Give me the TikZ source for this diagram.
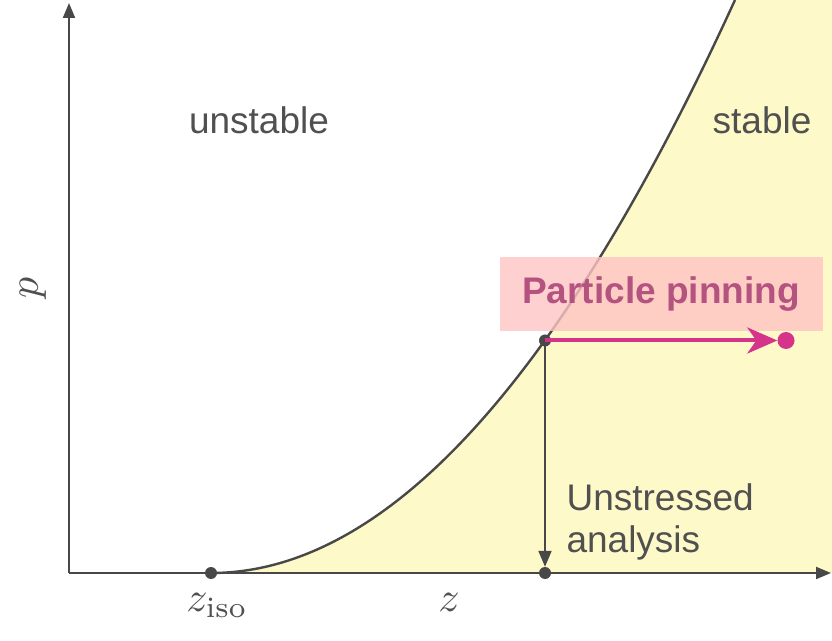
\documentclass[tikz,border=0pt]{standalone}
\usepackage{fontspec}
\setsansfont{Liberation Sans}
\usetikzlibrary{arrows.meta}
\definecolor{axisgray}{RGB}{72,72,72}
\definecolor{txtgray}{RGB}{80,80,80}
\definecolor{stableyellow}{RGB}{253,249,201}
\definecolor{pinkbox}{RGB}{255,196,196}
\definecolor{pinktext}{RGB}{180,82,128}
\definecolor{magentaarrow}{RGB}{214,51,138}
\begin{document}
\begin{tikzpicture}[x=1pt,y=1pt,
  axis/.style={draw=axisgray,line width=2pt,-{Triangle[width=12pt,length=15pt]}},
  lbl/.style={text=txtgray,font=\sffamily\fontsize{37}{42}\selectfont},
  mlbl/.style={text=txtgray,scale=4.2,inner sep=0pt},
  dotmark/.style={circle,fill=axisgray,inner sep=0pt,minimum size=12pt}]
\useasboundingbox (0,0) rectangle (832,640);
% stable region
\fill[stableyellow] (211,67) -- plot[domain=211:735,samples=120] (\x,{67+20.87*((\x-211)/100)^2}) -- (832,640) -- (832,67) -- cycle;
% curve
\draw[axisgray,line width=2.4pt] plot[domain=211:735,samples=120] (\x,{67+20.87*((\x-211)/100)^2});
% axes
\coordinate (O) at (69,67);
\coordinate (ytop) at (69,637);
\coordinate (xend) at (831,67);
\draw[axis] (O) -- (ytop);
\draw[axis] (O) -- (xend);
% box
\node[fill=pinkbox,fill opacity=0.8,text opacity=1,minimum width=323pt,minimum height=74pt,inner sep=0pt,
  text=pinktext,font=\sffamily\bfseries\fontsize{37}{42}\selectfont] (pin) at (661,346) {Particle pinning};
% points
\node[dotmark] (ziso) at (211,67) {};
\node[dotmark] (zp) at (545,67) {};
\node[dotmark] (cp) at (545,299.5) {};
\node[circle,fill=magentaarrow,inner sep=0pt,minimum size=17pt] (end) at (786,299.5) {};
% arrows
\draw[axisgray,line width=2pt,-{Triangle[width=13pt,length=16pt]}] (cp.center) -- (zp.north);
\draw[magentaarrow,line width=4pt,-{Stealth[width=26pt,length=30pt,inset=9pt]}] (cp.center) -- (end.west);
% texts
\node[lbl] (unst) at (259,520) {unstable};
\node[lbl] (st) at (762,520) {stable};
\node[lbl,align=left,anchor=west] (ua) at (563,118) {Unstressed\\analysis};
\node[mlbl,anchor=base] (zisolbl) at (217,29) {$z_{\mathrm{iso}}$};
\node[mlbl,anchor=base] (zlbl) at (449,29) {$z$};
\node[mlbl,rotate=90] (plbl) at (33,352) {$p$};
\end{tikzpicture}
\end{document}
